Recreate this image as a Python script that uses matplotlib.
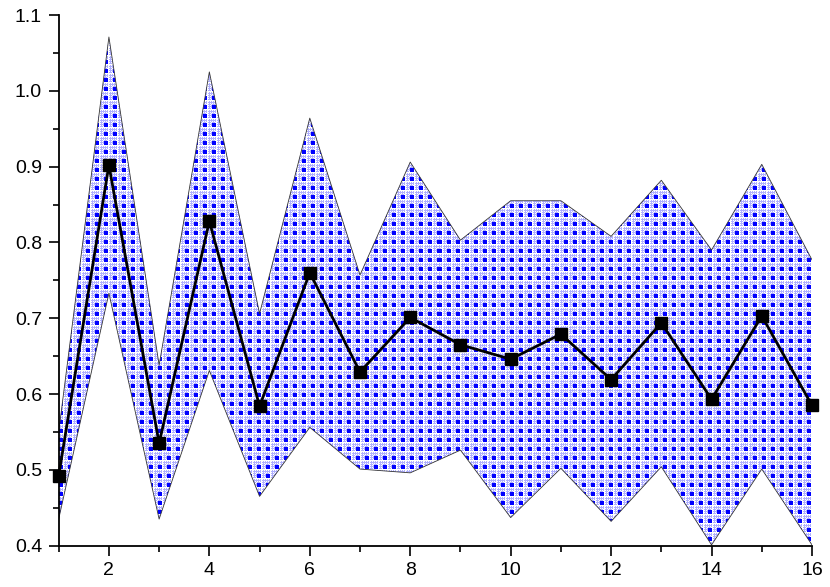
import matplotlib
matplotlib.use('Agg')
import matplotlib.pyplot as plt
import numpy as np
from matplotlib.patches import Polygon

x = np.arange(1, 17)
mean = [0.492, 0.902, 0.535, 0.828, 0.584, 0.760, 0.629, 0.701,
        0.665, 0.646, 0.679, 0.619, 0.694, 0.593, 0.703, 0.585]
upper = [0.550, 1.071, 0.638, 1.025, 0.706, 0.964, 0.757, 0.906,
         0.803, 0.855, 0.855, 0.808, 0.882, 0.790, 0.903, 0.777]
lower = [0.435, 0.733, 0.435, 0.631, 0.465, 0.556, 0.501, 0.496,
         0.526, 0.437, 0.502, 0.432, 0.504, 0.401, 0.501, 0.401]

plt.rcParams['font.family'] = ['Liberation Sans', 'DejaVu Sans']

fig = plt.figure(figsize=(8.3, 5.87), dpi=100)
ax = fig.add_axes([0.0707, 0.0705, 0.9076, 0.9039])
ax.set_xlim(1, 16)
ax.set_ylim(0.4, 1.1)

# patterned fill: blue squares with small light blue '#' marks, 9 px period
blue = np.array([0, 0, 255]) / 255
light = np.array([175, 175, 255]) / 255
mark = np.array([[0, 1, 0, 1],
                 [1, 1, 1, 1],
                 [0, 1, 0, 1],
                 [1, 1, 1, 0]], dtype=bool)
tile = np.ones((9, 9, 3))
for r0, c0 in [(0, 5), (5, 0), (5, 5)]:
    cell = tile[r0:r0 + 4, c0:c0 + 4]
    cell[mark] = light
tile[0:4, 0:4] = blue
bb = ax.get_window_extent()
w, h = int(round(bb.width)), int(round(bb.height))
tex = np.tile(tile, (h // 9 + 1, w // 9 + 1, 1))[:h, :w]

verts = list(zip(x, upper)) + list(zip(x[::-1], lower[::-1]))
poly = Polygon(verts, closed=True, facecolor='none', edgecolor='none')
ax.add_patch(poly)
im = ax.imshow(tex, extent=[1, 16, 0.4, 1.1], aspect='auto',
               interpolation='nearest', zorder=1)
im.set_clip_path(poly)

ax.plot(x, upper, color='#333333', lw=0.6, zorder=2)
ax.plot(x, lower, color='#333333', lw=0.6, zorder=2)
ax.plot(x, mean, color='black', lw=2.0, marker='s', markersize=8,
        zorder=3, clip_on=False)

ax.spines['top'].set_visible(False)
ax.spines['right'].set_visible(False)
for s in ['left', 'bottom']:
    ax.spines[s].set_linewidth(1.3)
    ax.spines[s].set_zorder(4)

ax.set_xticks(np.arange(2, 17, 2))
ax.set_xticks(np.arange(1, 17, 2), minor=True)
ax.set_yticks(np.arange(0.4, 1.11, 0.1))
ax.set_yticks(np.arange(0.45, 1.1, 0.1), minor=True)
ax.set_yticklabels(['%.1f' % v for v in np.arange(0.4, 1.11, 0.1)])
ax.tick_params(which='major', direction='out', length=7, width=1.2,
               labelsize=14, pad=5)
ax.tick_params(which='minor', direction='out', length=4, width=1.2)

fig.savefig('out.png', dpi=100)
